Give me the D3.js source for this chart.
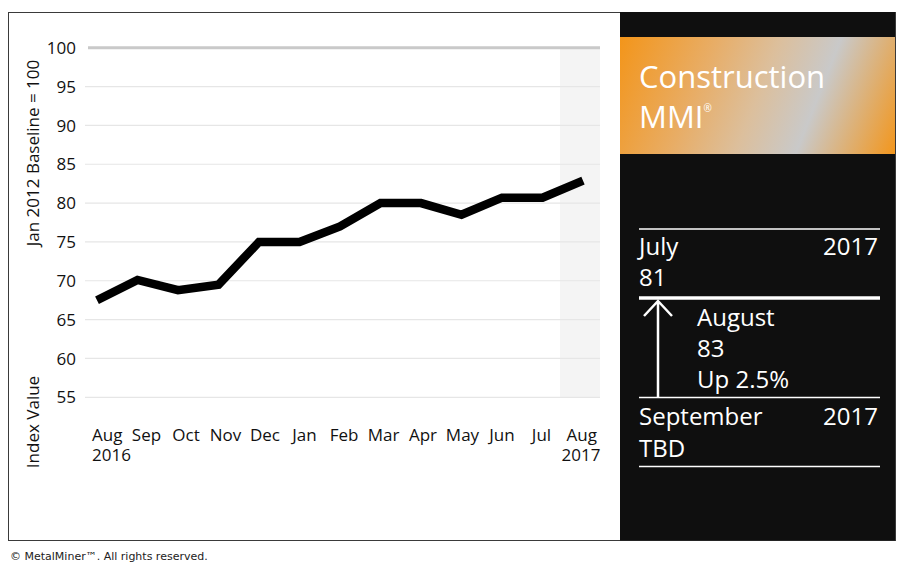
<!DOCTYPE html>
<html>
<head>
<meta charset="utf-8">
<script src="https://cdn.jsdelivr.net/npm/d3@7"></script>
<style>
  body { margin: 0; background: #fff; }
  svg { display: block; font-family: "Open Sans", sans-serif; }
</style>
</head>
<body>
<svg id="chart" width="900" height="572"></svg>
<script>
// data
var months = ["Aug", "Sep", "Oct", "Nov", "Dec", "Jan", "Feb", "Mar", "Apr", "May", "Jun", "Jul", "Aug "];
var years = ["2016", "", "", "", "", "", "", "", "", "", "", "", "2017"];
var values = [67.5, 70.1, 68.8, 69.5, 75, 75, 77, 80, 80, 78.5, 80.7, 80.7, 82.9];
var yTicks = [55, 60, 65, 70, 75, 80, 85, 90, 95, 100];

var svg = d3.select("#chart");

// outer frame + dark side panel
svg.append("rect")
    .attr("x", 8.5).attr("y", 12.5)
    .attr("width", 887).attr("height", 528)
    .attr("fill", "#fff")
    .attr("stroke", "#3a3a3a");

svg.append("rect")
    .attr("x", 620).attr("y", 12)
    .attr("width", 275).attr("height", 528.5)
    .attr("fill", "#0f0f0f");

var x = d3.scalePoint()
    .domain(months)
    .range([97, 583]);

var xLabel = d3.scalePoint()
    .domain(months)
    .range([107, 581]);

var y = d3.scaleLinear()
    .domain([55, 100])
    .range([397.3, 47.7]);

// highlight for latest month
svg.append("rect")
    .attr("x", 560).attr("y", y(100))
    .attr("width", 40).attr("height", y(55) - y(100))
    .attr("fill", "#f4f4f4");

// gridlines
svg.append("g")
    .selectAll("line")
    .data(yTicks)
    .enter().append("line")
    .attr("x1", function (d) { return d == 100 ? 88 : 85; })
    .attr("x2", 600)
    .attr("y1", function (d) { return y(d); })
    .attr("y2", function (d) { return y(d); })
    .attr("stroke", function (d) { return d == 100 ? "#c9c9c9" : "#e6e6e6"; })
    .attr("stroke-width", function (d) { return d == 100 ? 3 : 1.2; });

// y tick labels
svg.append("g")
    .selectAll("text")
    .data(yTicks)
    .enter().append("text")
    .attr("x", 76)
    .attr("y", function (d) { return y(d); })
    .attr("dy", "0.36em")
    .attr("text-anchor", "end")
    .style("font-size", "17px")
    .attr("fill", "#111")
    .text(function (d) { return d; });

// x labels: first one hangs left, last one hangs right
var last = months.length - 1;
function labelX(d, i) {
    if (i == 0) return xLabel(d) - 15;
    if (i == last) return xLabel(d) + 16;
    return xLabel(d);
}
function labelAnchor(d, i) {
    if (i == 0) return "start";
    if (i == last) return "end";
    return "middle";
}

svg.append("g")
    .selectAll("text")
    .data(months)
    .enter().append("text")
    .attr("x", labelX)
    .attr("y", 441)
    .attr("text-anchor", labelAnchor)
    .style("font-size", "17px")
    .attr("fill", "#111")
    .text(function (d) { return d.trim(); });

svg.append("g")
    .selectAll("text")
    .data(months)
    .enter().append("text")
    .filter(function (d, i) { return years[i] != ""; })
    .attr("x", labelX)
    .attr("y", 461)
    .attr("text-anchor", labelAnchor)
    .style("font-size", "17px")
    .attr("fill", "#111")
    .text(function (d, i) { return years[months.indexOf(d)]; });

// axis titles
svg.append("text")
    .attr("transform", "translate(39,153) rotate(-90)")
    .attr("text-anchor", "middle")
    .style("font-size", "17px")
    .attr("fill", "#111")
    .text("Jan 2012 Baseline = 100");

svg.append("text")
    .attr("transform", "translate(39,422) rotate(-90)")
    .attr("text-anchor", "middle")
    .style("font-size", "17px")
    .attr("fill", "#111")
    .text("Index Value");

// the index line
var line = d3.line()
    .x(function (d, i) { return x(months[i]); })
    .y(function (d) { return y(d); });

svg.append("path")
    .datum(values)
    .attr("d", line)
    .attr("fill", "none")
    .attr("stroke", "#000")
    .attr("stroke-width", 8.5)
    .attr("stroke-linejoin", "miter")
    .attr("stroke-linecap", "butt");

// title banner
var defs = svg.append("defs");
var grad = defs.append("linearGradient")
    .attr("id", "banner")
    .attr("gradientUnits", "userSpaceOnUse")
    .attr("x1", 620).attr("y1", 37)
    .attr("x2", 898).attr("y2", 147);
grad.append("stop").attr("offset", 0).attr("stop-color", "#f3951a");
grad.append("stop").attr("offset", 0.3).attr("stop-color", "#e8ad66");
grad.append("stop").attr("offset", 0.5).attr("stop-color", "#dcbf9c");
grad.append("stop").attr("offset", 0.69).attr("stop-color", "#c9c9c9");
grad.append("stop").attr("offset", 1).attr("stop-color", "#f3961c");

svg.append("rect")
    .attr("x", 620).attr("y", 37)
    .attr("width", 275).attr("height", 117)
    .attr("fill", "url(#banner)");

svg.append("text")
    .attr("x", 639).attr("y", 88)
    .attr("fill", "#fff")
    .style("font-size", "31px")
    .text("Construction");

var mmi = svg.append("text")
    .attr("x", 639).attr("y", 128)
    .attr("fill", "#fff")
    .style("font-size", "31px")
    .text("MMI");
mmi.append("tspan")
    .attr("dy", -16)
    .style("font-size", "10px")
    .text("®");

// side panel rules
var rules = [229, 298, 397.5, 466.5];
svg.append("g")
    .selectAll("line")
    .data(rules)
    .enter().append("line")
    .attr("x1", 639).attr("x2", 880)
    .attr("y1", function (d) { return d; })
    .attr("y2", function (d) { return d; })
    .attr("stroke", "#fff")
    .attr("stroke-width", function (d, i) { return i == 1 ? 3.5 : 1.5; });

// arrow
svg.append("path")
    .attr("d", "M658,397 L658,301 M644,316 L658,301 L672,316")
    .attr("fill", "none")
    .attr("stroke", "#fff")
    .attr("stroke-width", 2.5);

var panelText = [
    {t: "July", x: 639, y: 255, a: "start"},
    {t: "2017", x: 878, y: 255, a: "end"},
    {t: "81", x: 639, y: 286, a: "start"},
    {t: "August", x: 697, y: 326, a: "start"},
    {t: "83", x: 697, y: 357, a: "start"},
    {t: "Up 2.5%", x: 697, y: 388, a: "start"},
    {t: "September", x: 639, y: 425, a: "start"},
    {t: "2017", x: 878, y: 425, a: "end"},
    {t: "TBD", x: 639, y: 457, a: "start"}
];
svg.append("g")
    .selectAll("text")
    .data(panelText)
    .enter().append("text")
    .attr("x", function (d) { return d.x; })
    .attr("y", function (d) { return d.y; })
    .attr("text-anchor", function (d) { return d.a; })
    .attr("fill", "#fff")
    .style("font-size", "24px")
    .text(function (d) { return d.t; });

// footer
svg.append("text")
    .attr("x", 10).attr("y", 560)
    .style("font-family", "'DejaVu Sans', Verdana, sans-serif")
    .style("font-size", "11px")
    .attr("fill", "#222")
    .text("© MetalMiner™. All rights reserved.");
</script>
</body>
</html>
